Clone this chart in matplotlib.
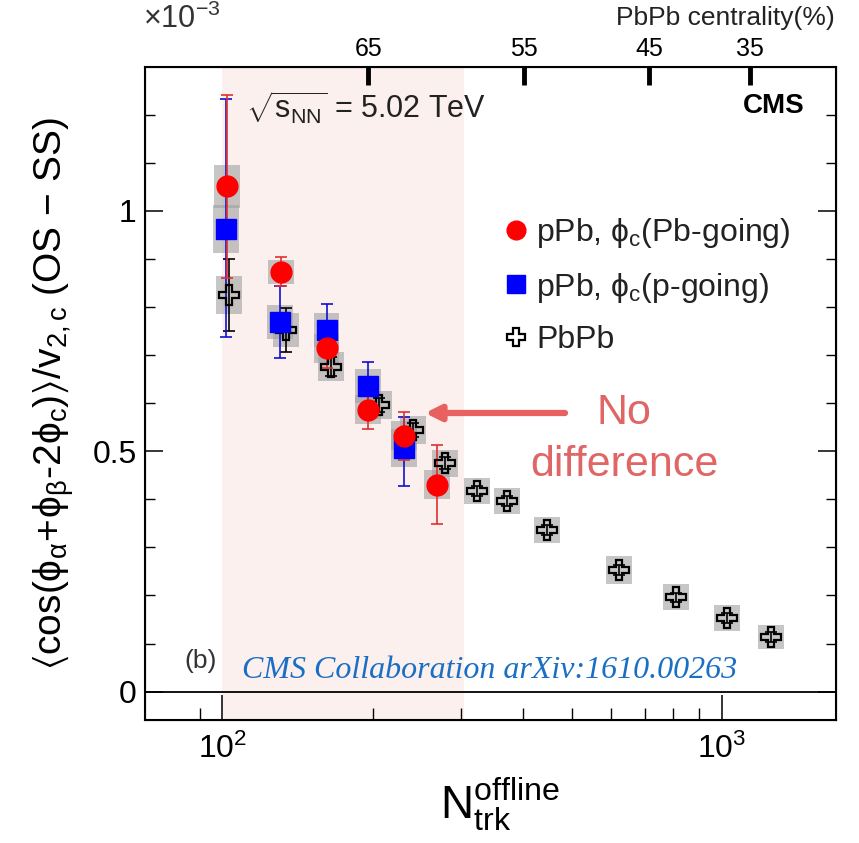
import numpy as np
import matplotlib
matplotlib.use("Agg")
import matplotlib.pyplot as plt
from matplotlib.ticker import FixedLocator, NullFormatter, MultipleLocator

plt.rcParams['font.family'] = ['Liberation Sans', 'DejaVu Sans']
plt.rcParams['mathtext.fontset'] = 'custom'
plt.rcParams['mathtext.rm'] = 'Liberation Sans'
plt.rcParams['mathtext.it'] = 'Liberation Sans:italic'
plt.rcParams['mathtext.bf'] = 'Liberation Sans:bold'

# ---------------- data (values in units of 1e-3) ----------------
pb_going_N = [102, 131, 161.6, 195.7, 230.7, 269]
pb_going_y = [1.051, 0.873, 0.714, 0.586, 0.532, 0.430]
pb_going_err_lo = [0.19, 0.03, 0.04, 0.04, 0.05, 0.082]
pb_going_err_hi = [0.19, 0.03, 0.04, 0.04, 0.05, 0.082]
pb_going_sys = [0.045, 0.025, 0.03, 0.03, 0.03, 0.03]

p_going_N = [101.5, 130.7, 161.6, 196, 230.7]
p_going_y = [0.962, 0.769, 0.752, 0.636, 0.507]
p_going_err_lo = [0.224, 0.075, 0.055, 0.05, 0.08]
p_going_err_hi = [0.27, 0.075, 0.055, 0.05, 0.065]
p_going_sys = [0.05, 0.035, 0.035, 0.035, 0.04]

pbpb_N = [103, 133.9, 165, 206, 240.5, 278.5, 322.7, 372, 445.6, 622, 808, 1022, 1252]
pbpb_y = [0.825, 0.752, 0.676, 0.596, 0.544, 0.475, 0.417, 0.397, 0.336, 0.253, 0.196, 0.153, 0.113]
pbpb_err = [0.075, 0.045, 0.02, 0.015, 0.015, 0.012, 0.01, 0.01, 0.01, 0.01, 0.01, 0.01, 0.01]
pbpb_sys = [0.04, 0.035, 0.03, 0.03, 0.03, 0.028, 0.027, 0.027, 0.027, 0.03, 0.027, 0.027, 0.025]

cent_labels = ['65', '55', '45', '35']
cent_N = [196, 401, 714, 1137]

shade_range = [100, 305]

# ---------------- figure ----------------
W, H = 859, 843
fig = plt.figure(figsize=(W / 100, H / 100), dpi=100)
L, R, T, B = 145, 836, 67, 720
ax = fig.add_axes([L / W, 1 - B / H, (R - L) / W, (B - T) / H])
ax.set_xscale('log')
ax.set_xlim(70, 1692)
ax.set_ylim(-0.059, 1.299)


def axpos(px, py):
    return ((px - L) / (R - L), (B - py) / (B - T))


ax.axvspan(shade_range[0], shade_range[1], color='#fcf0ef', zorder=0, lw=0)
ax.axhline(0, color='black', lw=1.3, zorder=1)

f = 10 ** 0.026


def sysboxes(N, y, s):
    N = np.asarray(N)
    y = np.asarray(y)
    s = np.asarray(s)
    ax.bar(N / f, 2 * s, width=N * f - N / f, bottom=y - s, align='edge',
           color='#a0a0a0', alpha=0.6, lw=0, zorder=2)


sysboxes(pbpb_N, pbpb_y, pbpb_sys)
sysboxes(p_going_N, p_going_y, p_going_sys)
sysboxes(pb_going_N, pb_going_y, pb_going_sys)

ax.errorbar(pbpb_N, pbpb_y, yerr=pbpb_err, fmt='none', ecolor='black',
            elinewidth=1.2, capsize=4, capthick=1.2, zorder=3)
ax.errorbar(p_going_N, p_going_y, yerr=[p_going_err_lo, p_going_err_hi], fmt='none',
            ecolor='#1010d0', elinewidth=1.2, capsize=4, capthick=1.2, zorder=3)
ax.errorbar(pb_going_N, pb_going_y, yerr=[pb_going_err_lo, pb_going_err_hi], fmt='none',
            ecolor='#e03030', elinewidth=1.2, capsize=4, capthick=1.2, zorder=3)

h3, = ax.plot(pbpb_N, pbpb_y, ls='none', marker='P', ms=15, mfc='none',
              mec='black', mew=1.6, zorder=4)
h2, = ax.plot(p_going_N, p_going_y, ls='none', marker='s', ms=14, mfc='#0000ff',
              mec='#0000ff', zorder=5)
h1, = ax.plot(pb_going_N, pb_going_y, ls='none', marker='o', ms=15, mfc='#ff0000',
              mec='#ff0000', zorder=6)

# ticks
ax.yaxis.set_minor_locator(MultipleLocator(0.1))
ax.set_yticks([0, 0.5, 1])
ax.set_yticklabels(['0', '0.5', '1'])
ax.tick_params(axis='y', which='both', direction='in', left=True, right=True)
ax.tick_params(axis='y', which='major', length=13, width=1.1, labelsize=23, pad=6)
ax.tick_params(axis='y', which='minor', length=7, width=1.0)
ax.xaxis.set_major_locator(FixedLocator([100, 1000]))
ax.set_xticklabels(['$10^{2}$', '$10^{3}$'])
ax.xaxis.set_minor_locator(FixedLocator([90] + list(range(200, 1000, 100))))
ax.xaxis.set_minor_formatter(NullFormatter())
ax.tick_params(axis='x', which='both', direction='in', top=False)
ax.tick_params(axis='x', which='major', length=18, width=1.1, labelsize=23, pad=10)
ax.tick_params(axis='x', which='minor', length=9, width=1.0)
for s in ax.spines.values():
    s.set_linewidth(1.5)

# top centrality axis
axt = ax.twiny()
axt.set_xscale('log')
axt.set_xlim(ax.get_xlim())
axt.xaxis.set_major_locator(FixedLocator(cent_N))
axt.set_xticklabels(cent_labels)
axt.xaxis.set_minor_locator(FixedLocator([]))
axt.tick_params(axis='x', which='major', direction='in', length=13, width=3.5,
                labelsize=18, pad=4, colors='black')

# labels
ax.set_xlabel(r'$\mathregular{N_{trk}^{offline}}$', fontsize=33, labelpad=2)
ax.xaxis.set_label_coords(*axpos(500, 0)[:1], -0.085)
ax.set_ylabel(r'$\mathregular{\langle cos(\phi_{\alpha}\!+\!\phi_{\beta}\text{-}2\phi_{c})\rangle/v_{2,c}}$ (OS $-$ SS)',
              fontsize=28, labelpad=12)

fig.text(143 / W, 1 - 19 / H, r'$\mathregular{\times10^{-3}}$', fontsize=22, color='#333333',
         ha='left', va='center')
fig.text(835 / W, 1 - 18 / H, 'PbPb centrality(%)', fontsize=19, color='#222222',
         ha='right', va='center')

ax.text(*axpos(246, 108), r'$\mathregular{\sqrt{s_{NN}}}$ = 5.02 TeV', fontsize=22,
        transform=ax.transAxes, ha='left', va='center', color='#222222')
ax.text(*axpos(805, 106), 'CMS', fontsize=20, fontweight='bold', transform=ax.transAxes,
        ha='right', va='center')
ax.text(*axpos(184, 661), '(b)', fontsize=19, transform=ax.transAxes, ha='left',
        va='center', color='#333333')
ax.text(*axpos(490, 670), 'CMS Collaboration arXiv:1610.00263', fontsize=23,
        family='Liberation Serif', style='italic', color='#1a6fc4',
        transform=ax.transAxes, ha='center', va='center')

# annotation
ax.annotate('', xy=axpos(425, 413), xytext=axpos(565, 413),
            xycoords='axes fraction', textcoords='axes fraction',
            arrowprops=dict(arrowstyle='-|>,head_length=0.9,head_width=0.45',
                            color='#e86060', lw=4.5, shrinkA=0, shrinkB=0))
ax.text(*axpos(624, 413), 'No', fontsize=31, color='#e06666', ha='center', va='center',
        transform=ax.transAxes)
ax.text(*axpos(624, 465), 'difference', fontsize=31, color='#e06666', ha='center',
        va='center', transform=ax.transAxes)

leg = ax.legend([h1, h2, h3],
                [r'pPb, $\mathregular{\phi_{c}}$(Pb-going)',
                 r'pPb, $\mathregular{\phi_{c}}$(p-going)', 'PbPb'],
                loc='upper left', bbox_to_anchor=axpos(490, 203), frameon=False,
                fontsize=23, handlelength=0.8, handletextpad=0.25, labelspacing=0.65,
                markerscale=0.9, borderaxespad=0)
for t in leg.get_texts():
    t.set_color('#222222')

fig.savefig('out.png', dpi=100)
